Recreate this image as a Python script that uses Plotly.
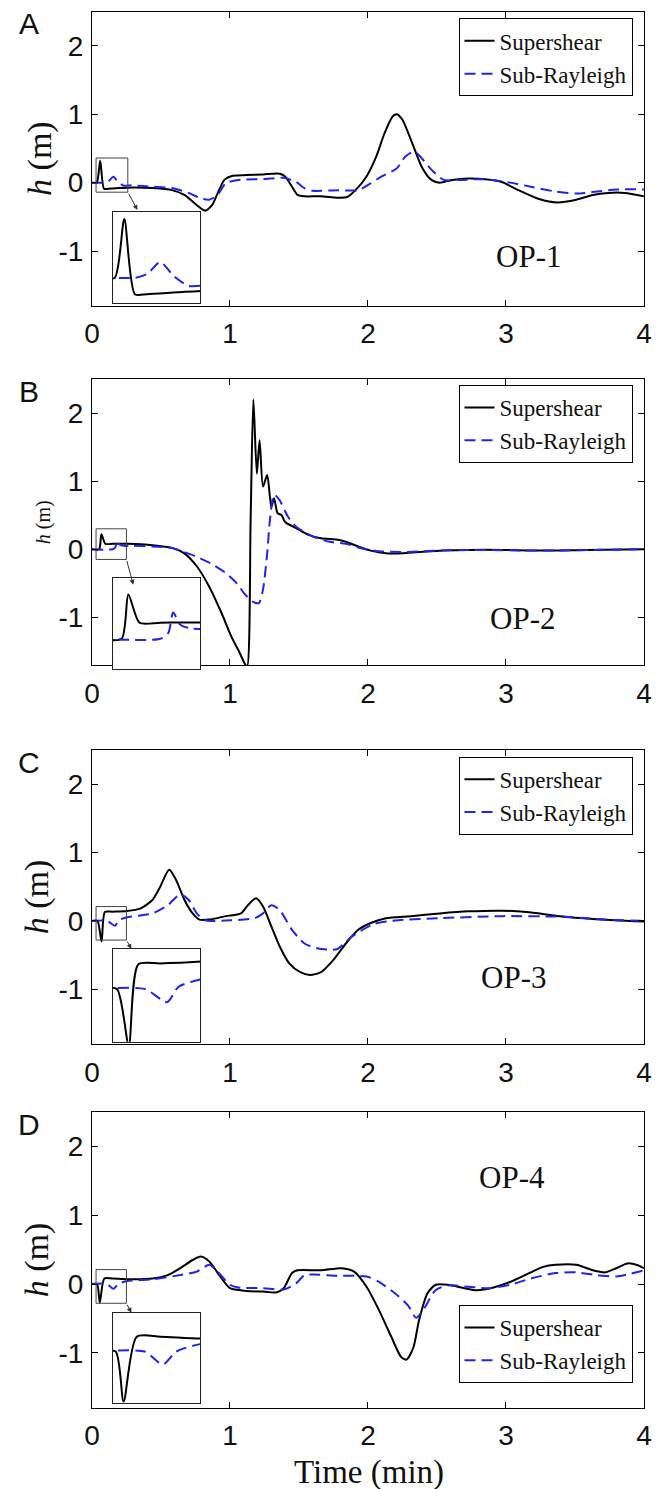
import plotly.graph_objects as go

W, H = 661, 1489

# ── Panel A: OP-1 ────────────────────────────────────────────────────────────
t_a_ss = [0, 0.035, 0.06, 0.088, 0.12, 0.2, 0.29, 0.44, 0.58, 0.67, 0.76, 0.82, 0.87, 0.91,
          0.96, 1.02, 1.12, 1.24, 1.36, 1.40, 1.45, 1.49, 1.54, 1.66, 1.78, 1.85, 1.91, 1.99,
          2.06, 2.12, 2.18, 2.21, 2.25, 2.33, 2.39, 2.46, 2.52, 2.61, 2.73, 2.85, 2.97, 3.09,
          3.24, 3.37, 3.51, 3.63, 3.74, 3.86, 4.0]
h_a_ss = [0, 0, 0.32, -0.09, -0.09, -0.08, -0.07, -0.08, -0.11, -0.18, -0.33, -0.41, -0.33, -0.16,
          0.04, 0.10, 0.11, 0.12, 0.13, 0.09, -0.06, -0.18, -0.20, -0.20, -0.22, -0.21, -0.11, 0.09,
          0.38, 0.72, 0.97, 1.0, 0.92, 0.53, 0.23, 0.04, 0.0, 0.04, 0.06, 0.05, 0.01, -0.11,
          -0.24, -0.29, -0.25, -0.18, -0.15, -0.15, -0.20]
t_a_sr = [0, 0.09, 0.12, 0.155, 0.19, 0.23, 0.29, 0.44, 0.58, 0.70, 0.79, 0.85, 0.91, 0.97,
          1.06, 1.24, 1.39, 1.48, 1.54, 1.60, 1.78, 1.93, 2.02, 2.10, 2.21, 2.27, 2.33, 2.37,
          2.46, 2.55, 2.67, 2.85, 3.03, 3.18, 3.36, 3.51, 3.66, 3.80, 4.0]
h_a_sr = [0, 0, 0.02, 0.085, 0.01, -0.045, -0.04, -0.06, -0.08, -0.15, -0.23, -0.25, -0.18, -0.01,
          0.04, 0.05, 0.07, 0.01, -0.08, -0.12, -0.11, -0.11, -0.01, 0.09, 0.21, 0.38, 0.45, 0.40,
          0.19, 0.04, 0.04, 0.05, 0.0, -0.06, -0.13, -0.16, -0.13, -0.10, -0.10]

# ── Panel B: OP-2 ────────────────────────────────────────────────────────────
t_b_ss = [0, 0.052, 0.069, 0.097, 0.15, 0.26, 0.44, 0.58, 0.67, 0.76, 0.85, 0.94, 1.01, 1.07,
          1.11, 1.125, 1.15, 1.17, 1.195, 1.215, 1.24, 1.27, 1.30, 1.32, 1.345, 1.375, 1.40,
          1.48, 1.57, 1.66, 1.78, 1.84, 1.93, 2.02, 2.13, 2.25, 2.37, 2.55, 2.73, 2.97, 3.27,
          3.57, 4.0]
h_b_ss = [0, 0, 0.22, 0.08, 0.08, 0.08, 0.06, 0.02, -0.06, -0.25, -0.55, -0.94, -1.28, -1.52,
          -1.69, -1.72, 0.43, 2.2, 1.11, 1.6, 0.92, 1.09, 0.62, 0.75, 0.53, 0.50, 0.40,
          0.31, 0.21, 0.16, 0.14, 0.11, 0.04, -0.02, -0.06, -0.06, -0.04, -0.02, -0.01, -0.01, -0.02,
          -0.01, 0.0]
t_b_sr = [0, 0.15, 0.17, 0.182, 0.2, 0.23, 0.29, 0.44, 0.58, 0.64, 0.76, 0.88, 0.97, 1.05,
          1.10, 1.165, 1.21, 1.24, 1.27, 1.29, 1.32, 1.36, 1.42, 1.48, 1.60, 1.72, 1.84, 1.96,
          2.08, 2.25, 2.67, 3.27, 4.0]
h_b_sr = [0, 0, 0.03, 0.13, 0.07, 0.05, 0.05, 0.04, 0.02, -0.02, -0.11, -0.23, -0.35, -0.5,
          -0.64, -0.77, -0.79, -0.59, -0.06, 0.43, 0.80, 0.72, 0.48, 0.33, 0.19, 0.11, 0.08, 0.01,
          -0.03, -0.04, -0.01, -0.02, 0.0]

# ── Panel C: OP-3 ────────────────────────────────────────────────────────────
t_c_ss = [0, 0.04, 0.07, 0.094, 0.15, 0.25, 0.35, 0.44, 0.49, 0.56, 0.61, 0.67, 0.73, 0.78,
          0.85, 0.97, 1.08, 1.13, 1.19, 1.24, 1.30, 1.36, 1.43, 1.51, 1.58, 1.66, 1.75, 1.84,
          1.93, 2.02, 2.13, 2.31, 2.52, 2.73, 2.97, 3.15, 3.39, 3.63, 4.0]
h_c_ss = [0, 0, -0.3, 0.13, 0.135, 0.145, 0.18, 0.31, 0.48, 0.75, 0.60, 0.31, 0.11, 0.02,
          0.02, 0.07, 0.11, 0.23, 0.33, 0.21, -0.08, -0.37, -0.62, -0.75, -0.79, -0.75, -0.57, -0.33,
          -0.13, -0.03, 0.04, 0.07, 0.11, 0.14, 0.15, 0.13, 0.07, 0.03, -0.01]
t_c_sr = [0, 0.11, 0.167, 0.195, 0.25, 0.35, 0.44, 0.55, 0.64, 0.70, 0.76, 0.82, 1.0, 1.18,
          1.24, 1.30, 1.36, 1.45, 1.54, 1.63, 1.72, 1.78, 1.87, 1.96, 2.05, 2.22, 2.52, 2.97,
          3.42, 3.72, 4.0]
h_c_sr = [0, 0, -0.07, 0.01, 0.05, 0.08, 0.11, 0.23, 0.39, 0.31, 0.11, 0.01, 0.01, 0.04,
          0.11, 0.23, 0.16, -0.13, -0.33, -0.40, -0.42, -0.41, -0.25, -0.13, -0.04, 0.01, 0.04, 0.07,
          0.06, 0.02, 0.0]

# ── Panel D: OP-4 ────────────────────────────────────────────────────────────
t_d_ss = [0, 0.037, 0.057, 0.09, 0.15, 0.26, 0.44, 0.55, 0.64, 0.73, 0.79, 0.85, 0.93, 1.0,
          1.12, 1.24, 1.34, 1.39, 1.45, 1.49, 1.66, 1.81, 1.90, 1.99, 2.08, 2.17, 2.24, 2.28,
          2.33, 2.37, 2.43, 2.49, 2.58, 2.70, 2.79, 2.91, 3.03, 3.18, 3.27, 3.36, 3.51, 3.63,
          3.72, 3.80, 3.88, 3.96, 4.0]
h_d_ss = [0, 0, -0.27, 0.08, 0.08, 0.07, 0.08, 0.13, 0.23, 0.35, 0.40, 0.33, 0.11, -0.06,
          -0.10, -0.11, -0.12, -0.06, 0.16, 0.20, 0.20, 0.23, 0.18, -0.04, -0.38, -0.77, -1.06, -1.10,
          -0.92, -0.53, -0.14, -0.01, -0.01, -0.06, -0.09, -0.05, 0.03, 0.17, 0.25, 0.28, 0.28, 0.20,
          0.17, 0.23, 0.30, 0.27, 0.23]
t_d_sr = [0, 0.11, 0.156, 0.19, 0.25, 0.44, 0.64, 0.76, 0.85, 0.91, 1.0, 1.06, 1.24, 1.39,
          1.48, 1.54, 1.60, 1.78, 1.99, 2.08, 2.20, 2.29, 2.35, 2.40, 2.49, 2.58, 2.73, 2.88,
          3.03, 3.18, 3.36, 3.51, 3.66, 3.80, 4.0]
h_d_sr = [0, 0, -0.07, 0.0, 0.04, 0.07, 0.13, 0.18, 0.28, 0.18, -0.01, -0.05, -0.06, -0.08,
          0.01, 0.13, 0.14, 0.12, 0.11, 0.03, -0.14, -0.31, -0.49, -0.38, -0.09, -0.02, -0.04, -0.06,
          -0.01, 0.08, 0.16, 0.17, 0.13, 0.11, 0.20]

x_ticks = [0, 1, 2, 3, 4]
y_ticks = [-1, 0, 1, 2]
y_ticktext = ["-1", "0", "1", "2"]
labels = ["A", "B", "C", "D"]
op_names = ["OP-1", "OP-2", "OP-3", "OP-4"]

SERIF = "Liberation Serif"
SANS = "Liberation Sans"
BLUE = "#2323e6"
TXT = "#111111"


def fx(px):
    return px / W


def fy(py):
    return 1 - py / H


panels = [
    dict(ss=(t_a_ss, h_a_ss), sr=(t_a_sr, h_a_sr), top=11.7, bot=305.7, yr=[-1.8, 2.5],
         zoom_x=[0.03, 0.26], zoom_y=[-0.14, 0.36], inset=(211.7, 303.3),
         arrow=(0.33, -0.40), leg_top=18.3, op=(533, 257), ylab=(32, 34)),
    dict(ss=(t_b_ss, h_b_ss), sr=(t_b_sr, h_b_sr), top=379, bot=665, yr=[-1.7, 2.5],
         zoom_x=[0.03, 0.25], zoom_y=[-0.15, 0.30], inset=(578.3, 669),
         arrow=(0.30, -0.52), leg_top=385, op=(527, 618), ylab=(36, 20)),
    dict(ss=(t_c_ss, h_c_ss), sr=(t_c_sr, h_c_sr), top=750, bot=1044, yr=[-1.8, 2.5],
         zoom_x=[0.03, 0.25], zoom_y=[-0.28, 0.21], inset=(949.3, 1041.7),
         arrow=(0.286, -0.41), leg_top=756.7, op=(518, 977), ylab=(30, 34)),
    dict(ss=(t_d_ss, h_d_ss), sr=(t_d_sr, h_d_sr), top=1112.3, bot=1407.7, yr=[-1.8, 2.5],
         zoom_x=[0.03, 0.25], zoom_y=[-0.28, 0.21], inset=(1312.7, 1403.3),
         arrow=(0.286, -0.42), leg_top=1305, op=(517, 1177), ylab=(30, 34)),
]

X0, X1 = 86, 651.7
IN_X0, IN_X1 = 107.5, 196.9

fig = go.Figure()
layout = {}

for i, p in enumerate(panels):
    n = i + 1
    m = i + 5  # inset axes
    xa = "x" if n == 1 else f"x{n}"
    ya = "y" if n == 1 else f"y{n}"
    leg = "legend" if n == 1 else f"legend{n}"

    for (t, h), name, style in [
        (p["ss"], "Supershear", dict(color="black", width=2)),
        (p["sr"], "Sub-Rayleigh", dict(color=BLUE, width=2, dash="11px,6px")),
    ]:
        fig.add_trace(go.Scatter(
            x=t, y=h, mode="lines", name=name, legend=leg,
            line=dict(shape="spline", smoothing=0.7, **style),
            xaxis=xa, yaxis=ya,
        ))
        fig.add_trace(go.Scatter(
            x=t, y=h, mode="lines", showlegend=False,
            line=dict(shape="spline", smoothing=0.7, **style),
            xaxis=f"x{m}", yaxis=f"y{m}",
        ))

    axis_common = dict(
        showline=True, linecolor="black", linewidth=1, mirror="ticks",
        ticks="inside", ticklen=6, tickcolor="black", tickwidth=1,
        showgrid=False, zeroline=False,
        tickfont=dict(family=SANS, size=28, color=TXT),
    )
    layout[f"xaxis{n}"] = dict(
        domain=[fx(X0), fx(X1)], range=[0, 4], anchor=ya,
        tickvals=x_ticks, ticklabelstandoff=3, **axis_common,
    )
    layout[f"yaxis{n}"] = dict(
        domain=[fy(p["bot"]), fy(p["top"])], range=p["yr"], anchor=xa,
        tickvals=y_ticks, ticktext=y_ticktext, ticklabelstandoff=2, **axis_common,
    )

    inset_common = dict(showline=True, linecolor="#222", linewidth=1, mirror=True,
                        showticklabels=False, ticks="", showgrid=False, zeroline=False)
    layout[f"xaxis{m}"] = dict(domain=[fx(IN_X0), fx(IN_X1)], range=p["zoom_x"],
                               anchor=f"y{m}", **inset_common)
    layout[f"yaxis{m}"] = dict(domain=[fy(p["inset"][1]), fy(p["inset"][0])],
                               range=p["zoom_y"], anchor=f"x{m}", **inset_common)

    # zoom window and arrow to the inset
    fig.add_shape(type="rect", xref=xa, yref=ya,
                  x0=p["zoom_x"][0], x1=p["zoom_x"][1], y0=p["zoom_y"][0], y1=p["zoom_y"][1],
                  line=dict(color="#444", width=1))
    fig.add_annotation(x=p["arrow"][0], y=p["arrow"][1], ax=p["zoom_x"][1], ay=p["zoom_y"][0],
                       xref=xa, yref=ya, axref=xa, ayref=ya, text="", showarrow=True,
                       arrowhead=2, arrowsize=1, arrowwidth=1, arrowcolor="#333")

    layout[leg] = dict(
        x=fx(640), xanchor="right", y=fy(p["leg_top"]), yanchor="top",
        bgcolor="white", bordercolor="black", borderwidth=1,
        font=dict(family=SERIF, size=23, color=TXT),
        itemwidth=30, tracegroupgap=0,
    )

    centred = dict(xref="paper", yref="paper", showarrow=False,
                   xanchor="center", yanchor="middle")
    fig.add_annotation(x=fx(p["op"][0]), y=fy(p["op"][1]), text=op_names[i],
                       font=dict(family=SERIF, size=31, color=TXT), **centred)
    fig.add_annotation(x=fx(22), y=fy(p["top"] + 12), text=labels[i],
                       font=dict(family=SANS, size=30, color=TXT), **centred)
    fig.add_annotation(x=fx(p["ylab"][0]), y=fy((p["top"] + p["bot"]) / 2),
                       text="<i>h</i> (m)", textangle=-90,
                       font=dict(family=SERIF, size=p["ylab"][1], color=TXT), **centred)

fig.add_annotation(x=fx(370), y=fy(1472), xref="paper", yref="paper", text="Time (min)",
                   showarrow=False, xanchor="center", yanchor="middle",
                   font=dict(family=SERIF, size=33, color=TXT))

# plotly wants the first axes named without a suffix
layout["xaxis"] = layout.pop("xaxis1")
layout["yaxis"] = layout.pop("yaxis1")

fig.update_layout(
    width=W, height=H, autosize=False,
    margin=dict(l=0, r=0, t=0, b=0),
    plot_bgcolor="white", paper_bgcolor="white",
    showlegend=True,
    **layout,
)

fig.write_html("out.html", config={"displayModeBar": False},
               post_script="document.body.style.margin='0';")
